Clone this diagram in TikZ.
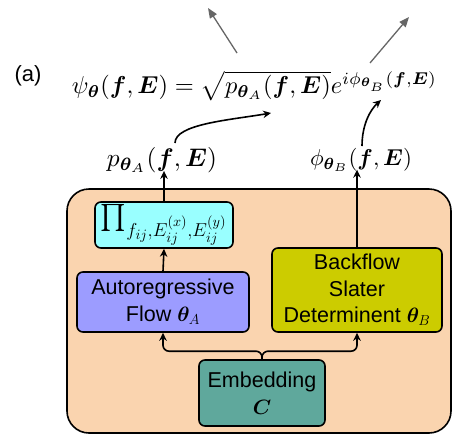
\documentclass[tikz,border=0pt]{standalone}
\usepackage{amsmath}
\usepackage{bm}
\usepackage{graphicx}
\usepackage[no-math]{fontspec}
\setmainfont{Liberation Sans}
\usetikzlibrary{arrows.meta}
\definecolor{peach}{HTML}{FAD4AF}
\definecolor{cyanbox}{HTML}{99FFFF}
\definecolor{bluebox}{HTML}{9C9CFF}
\definecolor{yellowbox}{HTML}{CCCC00}
\definecolor{tealbox}{HTML}{5FA89C}
\definecolor{arrowgray}{HTML}{666666}
\tikzset{
  box/.style={draw=black, line width=1.6pt, rounded corners=6pt, align=center, inner sep=0pt,
    font=\fontsize{21.5}{26.5}\selectfont},
  arr/.style={draw=black, line width=1.6pt, -{Stealth[length=8pt,width=7.5pt]}},
  grayarr/.style={draw=arrowgray, line width=1.3pt, -{Triangle[length=10pt,width=8pt]}},
  lbl/.style={inner sep=0pt}
}
\begin{document}
\begin{tikzpicture}[x=1pt,y=-1pt]
\useasboundingbox (0,0) rectangle (454,437);
\draw[fill=peach, line width=1.6pt, rounded corners=22pt] (67,189) rectangle (451,433);

\node[box, fill=cyanbox, minimum width=138pt, minimum height=46pt] (prod) at (164,225)
  {\resizebox{126pt}{!}{$\prod_{f_{ij},E^{(x)}_{ij},E^{(y)}_{ij}}$}};
\node[box, fill=bluebox, minimum width=172pt, minimum height=60pt] (flow) at (163,302)
  {Autoregressive\\Flow $\bm{\theta}_A$};
\node[box, fill=yellowbox, minimum width=170pt, minimum height=84pt] (slater) at (357,290)
  {Backflow\\Slater\\Determinent $\bm{\theta}_B$};
\node[box, fill=tealbox, minimum width=126pt, minimum height=66pt] (emb) at (262,393)
  {Embedding\\$\bm{C}$};

\node[lbl] (plab) at (162,160) {\resizebox{110pt}{!}{$p_{\bm{\theta}_A}(\bm{f},\bm{E})$}};
\node[lbl] (philab) at (361,160) {\resizebox{102pt}{!}{$\phi_{\bm{\theta}_B}(\bm{f},\bm{E})$}};
\node[lbl] (psi) at (254.5,86) {\resizebox{365pt}{!}{$\psi_{\bm{\theta}}(\bm{f},\bm{E})=\sqrt{p_{\bm{\theta}_A}(\bm{f},\bm{E})}e^{i\phi_{\bm{\theta}_B}(\bm{f},\bm{E})}$}};
\node[lbl, font=\fontsize{22}{26}\selectfont] (alab) at (28,76) {(a)};

\coordinate (pstart) at (175,143);
\coordinate (pend) at (271,113);
\coordinate (phistart) at (362,146);
\coordinate (phiend) at (381,100);
\coordinate (g1s) at (237,53);
\coordinate (g1e) at (208,8);
\coordinate (g2s) at (370,63);
\coordinate (g2e) at (409,17);

\draw[arr] (flow.north) -- (prod.south);
\draw[arr] (prod.north) -- ([yshift=2pt]prod.north |- plab.south);
\draw[arr] (slater.north) -- ([yshift=2pt]slater.north |- philab.south);
\draw[arr, rounded corners=6pt] (emb.north) -- ++(0,-8) -| (flow.south);
\draw[arr, rounded corners=6pt] (emb.north) -- ++(0,-8) -| (slater.south);

\draw[arr] (pstart) .. controls (175,124) and (230,120) .. (pend);
\draw[arr] (phistart) .. controls (362,125) and (370,110) .. (phiend);

\draw[grayarr] (g1s) -- (g1e);
\draw[grayarr] (g2s) -- (g2e);
\end{tikzpicture}
\end{document}
